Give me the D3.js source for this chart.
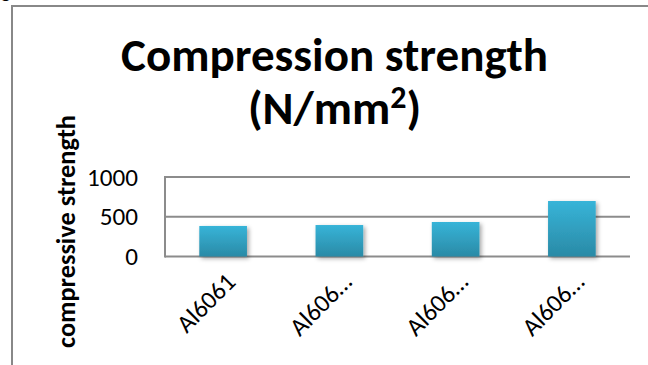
<!DOCTYPE html>
<html><head><meta charset="utf-8">
<script src="https://cdn.jsdelivr.net/npm/d3@7"></script>
<style>
html,body{margin:0;padding:0;background:#fff;}
svg{display:block;}
text{font-family:Carlito,Calibri,Lato,"Open Sans",sans-serif;fill:#000;}
</style></head>
<body>
<script>
const categories = ["Al6061", "Al606…", "Al606…", "Al606…"];
const values = [384, 396, 434, 698];
const yTicks = [0, 500, 1000];
const titleLine1 = "Compression strength";
const titleLine2 = ["(N/mm", "2", ")"];
const yAxisTitle = "compressive strength";

const W = 648, H = 365;
const FONT = "Carlito,Calibri,Lato,'Open Sans',sans-serif";
const svg = d3.select("body").append("svg").attr("width", W).attr("height", H);

const defs = svg.append("defs");
const grad = defs.append("linearGradient").attr("id", "barGrad")
  .attr("x1", 0).attr("y1", 0).attr("x2", 0).attr("y2", 1);
grad.append("stop").attr("offset", "0%").attr("stop-color", "#37b4d8");
grad.append("stop").attr("offset", "100%").attr("stop-color", "#2a8aa6");
const f = defs.append("filter").attr("id", "shadow")
  .attr("x", "-20%").attr("y", "-20%").attr("width", "150%").attr("height", "150%");
f.append("feDropShadow").attr("dx", 2).attr("dy", 2).attr("stdDeviation", 2)
  .attr("flood-color", "#000").attr("flood-opacity", 0.35);

function fit(sel, target) {
  const fs = +sel.attr("font-size");
  const w = sel.node().getComputedTextLength();
  const nfs = fs * target / w;
  sel.attr("font-size", nfs);
  return nfs;
}

// fragment of text above the frame (only its descender shows)
svg.append("text").attr("x", 1).attr("y", -2).attr("font-size", 20).text("g");

// outer frame
svg.append("path").attr("d", `M12,${H} L12,6 L${W},6`)
  .attr("fill", "none").attr("stroke", "#888").attr("stroke-width", 2);

const plot = {left: 165, right: 630, top: 177, bottom: 256.5};
const x = d3.scaleBand().domain(d3.range(categories.length))
  .range([plot.left, plot.right]).paddingInner(0.59).paddingOuter(0.295);
const y = d3.scaleLinear().domain([0, 1000]).range([plot.bottom, plot.top]);

// gridlines
svg.append("g").selectAll("line").data(yTicks).join("line")
  .attr("x1", plot.left).attr("x2", plot.right)
  .attr("y1", d => y(d)).attr("y2", d => y(d))
  .attr("stroke", "#8c8c8c").attr("stroke-width", 2);

// bars
svg.append("g").selectAll("rect").data(values).join("rect")
  .attr("x", (d, i) => x(i)).attr("width", x.bandwidth())
  .attr("y", d => y(d)).attr("height", d => y(0) - y(d))
  .attr("fill", "url(#barGrad)").attr("filter", "url(#shadow)");

// y axis line
svg.append("line").attr("x1", plot.left).attr("x2", plot.left)
  .attr("y1", plot.top - 1).attr("y2", plot.bottom + 1)
  .attr("stroke", "#8c8c8c").attr("stroke-width", 2);

// y axis labels
const yAxis = d3.axisLeft(y).tickValues(yTicks).tickSize(0).tickPadding(0).tickFormat(d3.format("d"));
const ya = svg.append("g").attr("transform", `translate(138,0)`).call(yAxis);
ya.select(".domain").remove();
ya.selectAll("text").attr("font-size", 22).attr("fill", "#000").style("font-family", FONT);
// size ticks so "1000" is ~51px wide, as in the reference
const tk = ya.selectAll("text").filter(d => d === 1000);
const tickFs = 22 * 51 / tk.node().getComputedTextLength();
ya.selectAll("text").attr("font-size", tickFs);

// x axis labels
const xAxis = d3.axisBottom(x).tickSize(0).tickFormat(i => categories[i]);
const xa = svg.append("g").attr("transform", `translate(0,${plot.bottom})`).call(xAxis);
xa.select(".domain").remove();
xa.selectAll("text").attr("font-size", tickFs).attr("fill", "#000").style("font-family", FONT)
  .attr("text-anchor", "end").attr("dy", 0).attr("y", 0)
  .attr("transform", "translate(14,27) rotate(-45)");

// title
const t1 = svg.append("text").attr("x", 334.5).attr("y", 71)
  .attr("text-anchor", "middle").attr("font-weight", "bold").attr("font-size", 40)
  .text(titleLine1);
const tfs = fit(t1, 427);
const t2 = svg.append("text").attr("x", 334.5).attr("y", 124)
  .attr("text-anchor", "middle").attr("font-weight", "bold").attr("font-size", tfs);
t2.append("tspan").text(titleLine2[0]);
t2.append("tspan").attr("font-size", tfs * 0.68).attr("dy", -tfs * 0.33).text(titleLine2[1]);
t2.append("tspan").attr("dy", tfs * 0.33).text(titleLine2[2]);

// y axis title
const yt = svg.append("text").attr("transform", "translate(75,231.5) rotate(-90)")
  .attr("text-anchor", "middle").attr("font-weight", "bold").attr("font-size", 20)
  .text(yAxisTitle);
fit(yt, 233);
</script>
</body></html>
